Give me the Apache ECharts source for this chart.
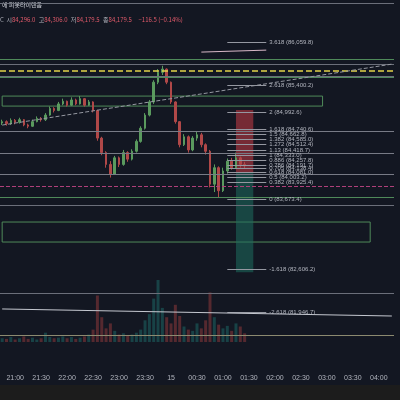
<!DOCTYPE html>
<html>
<head>
<meta charset="utf-8">
<script src="https://cdn.jsdelivr.net/npm/echarts@6/dist/echarts.min.js"></script>
<style>html,body{margin:0;padding:0;background:#131722;}#c{width:400px;height:400px;}</style>
</head>
<body>
<div id="c"></div>
<script>
// 5분봉 (20:45 ~ 01:25)
var closes = [84850,84820,84870,84840,84880,84800,84780,84850,84900,84880,
  84950,85050,85020,85120,85160,85100,85180,85120,85200,85100,
  85150,85020,84600,84380,84200,84050,84300,84200,84380,84280,
  84400,84550,84750,84950,85150,85450,85600,85650,85450,85150,
  84850,84500,84620,84420,84600,84650,84500,84400,83900,84150,
  83800,84100,84250,84150,84300,84200,84180];
var highs = [84880,84870,84900,84890,84910,84890,84820,84880,84930,84920,
  84980,85080,85070,85150,85200,85170,85220,85200,85240,85210,
  85180,85160,85030,84620,84400,84250,84330,84320,84420,84400,
  84430,84580,84780,84980,85180,85480,85650,85700,85660,85460,
  85160,84860,84660,84640,84630,84700,84680,84520,84420,84200,
  84170,84150,84290,84300,84380,84320,84240];
var lows = [84800,84790,84800,84810,84820,84780,84750,84770,84840,84850,
  84860,84940,84990,85010,85100,85080,85090,85100,85110,85080,
  85090,84990,84560,84340,84150,84000,84040,84160,84180,84240,
  84260,84380,84530,84730,84930,85120,85420,85560,85420,85120,
  84820,84460,84480,84380,84400,84560,84460,84350,83850,83780,
  83700,83780,84060,84120,84130,84150,84140];
var openFirst = 84830;
var volumes = [6,5,8,4,6,9,5,7,4,6,
  15,8,6,7,9,6,8,5,7,9,
  12,20,75,40,22,30,18,12,14,10,
  12,15,20,35,45,70,100,55,40,30,
  60,42,25,20,18,30,22,35,80,40,
  28,22,26,18,30,25,14];

var times = [];
for (var h = 20 * 60 + 45; h <= 28 * 60 + 15; h += 5) {
  var hh = Math.floor(h / 60) % 24, mm = h % 60;
  times.push((hh < 10 ? '0' : '') + hh + ':' + (mm < 10 ? '0' : '') + mm);
}

// 피보나치 레벨
var fibLevels = ['3.618','2.618','2','1.618','1.5','1.382','1.272','1.13','1','0.886','0.786','0.705','0.618','0.5','0.382','0','-1.618','-2.618'];
var fibPrices = [86059.8,85400.2,84992.6,84740.6,84662.8,84585.0,84512.4,84418.7,84333.0,84257.8,84191.7,84138.4,84081.0,84003.2,83925.4,83673.4,82606.2,81946.7];

// 수평선 (가격, 색, 타입)
var hPrices = [86652,85801,85725,85619,85543,85528,84707,84373,84053,83871,83704,83582,82245,81606];
var hColors = ['#6b6f7a','#4f8a5a','#6b6f7a','#e3d34a','#6b6f7a','#4f8a5a','#787b86','#787b86','#787b86','#b0407a','#4f8a5a','#6b6f7a','#6b6f7a','#8c8a70'];
var hTypes = ['solid','solid','solid','dashed','solid','solid','solid','solid','solid','dashed','solid','solid','solid','solid'];

var candles = closes.map(function (c, i) {
  var o = i === 0 ? openFirst : closes[i - 1];
  return [o, c, lows[i], highs[i]];
});
var volData = volumes.map(function (v, i) {
  return { value: v, itemStyle: { color: candles[i][1] >= candles[i][0] ? 'rgba(38,166,154,0.3)' : 'rgba(239,83,80,0.3)' } };
});

function fmt(p) {
  return p.toLocaleString('en-US', { minimumFractionDigits: 1, maximumFractionDigits: 1 });
}

var lines = [];
hPrices.forEach(function (p, i) {
  lines.push({ yAxis: p, lineStyle: { color: hColors[i], type: hTypes[i], width: i === 3 ? 1.5 : 1 }, label: { show: false } });
});
fibPrices.forEach(function (p, i) {
  lines.push([
    { coord: [52, p], lineStyle: { color: '#9598a1', width: 1, type: 'solid' },
      label: { show: true, position: 'end', formatter: fibLevels[i] + ' (' + fmt(p) + ')', color: '#b2b5be', fontSize: 6, distance: 3 } },
    { coord: [61, p] }
  ]);
});
lines.push([{ coord: [0, 84798], lineStyle: { color: '#9598a1', type: 'dashed', width: 1 }, label: { show: false } }, { coord: [90, 85725] }]);
lines.push([{ coord: [0, 82002], lineStyle: { color: '#c5c8d0', type: 'solid', width: 1 }, label: { show: false } }, { coord: [90, 81895] }]);
lines.push([{ coord: [46, 85908], lineStyle: { color: '#d8b8c8', type: 'solid', width: 1 }, label: { show: false } }, { coord: [61, 85938] }]);

var chart = echarts.init(document.getElementById('c'));
chart.setOption({
  backgroundColor: '#131722',
  animation: false,
  grid: [
    { left: 0, right: 6, top: 0, bottom: 35 },
    { left: 0, right: 6, top: 280, bottom: 58 }
  ],
  xAxis: [{
    type: 'category', data: times, gridIndex: 0,
    axisLine: { show: false }, axisTick: { show: false },
    axisLabel: {
      color: '#b2b5be', fontSize: 7, margin: 10,
      interval: function (i, v) { return v.slice(3) === '00' || v.slice(3) === '30'; },
      formatter: function (v) { return v === '00:00' ? '15' : v; }
    },
    splitLine: { show: false }
  }, {
    type: 'category', data: times, gridIndex: 1, show: false
  }],
  yAxis: [
    { type: 'value', min: 81150, max: 86700, show: false, gridIndex: 0 },
    { type: 'value', min: 0, max: 100, show: false, gridIndex: 1 }
  ],
  series: [{
    type: 'candlestick', data: candles, barWidth: 2,
    itemStyle: { color: '#5a9a5e', color0: '#b04848', borderColor: '#5a9a5e', borderColor0: '#b04848' },
    markLine: { symbol: 'none', silent: true, data: lines },
    markArea: {
      silent: true,
      data: [
        [{ coord: [0, 85239], itemStyle: { color: 'rgba(0,0,0,0)', borderColor: '#4f8a5a', borderWidth: 1 } }, { coord: [74, 85087] }],
        [{ coord: [0, 83324], itemStyle: { color: 'rgba(0,0,0,0)', borderColor: '#4f8a5a', borderWidth: 1 } }, { coord: [85, 83020] }],
        [{ coord: [54, 85026], itemStyle: { color: 'rgba(200,60,70,0.55)' } }, { coord: [58, 84079] }],
        [{ coord: [54, 84079], itemStyle: { color: 'rgba(30,110,95,0.55)' } }, { coord: [58, 82560] }]
      ]
    }
  }, {
    type: 'bar', data: volData, xAxisIndex: 1, yAxisIndex: 1, barWidth: 3
  }],
  graphic: [
    { type: 'rect', left: 0, top: 385, shape: { width: 400, height: 15 }, style: { fill: '#1c1c1c' } },
    { type: 'text', left: 2, top: 2, style: { text: '에 피봇라이렌음', fill: '#d1d4dc', font: '6px "Noto Sans CJK KR"' } },
    { type: 'text', left: 0, top: 14, style: { rich: {
      w: { fill: '#b2b5be', fontSize: 6, fontFamily: 'Noto Sans CJK KR' },
      r: { fill: '#e05a6a', fontSize: 6, fontFamily: 'Noto Sans CJK KR' } },
      text: '{w|C  시}{r|84,296.0} {w|고}{r|84,306.0} {w|저}{r|84,179.5} {w|종}{r|84,179.5}  {r|−116.5 (−0.14%)}' } }
  ]
});
</script>
</body>
</html>
